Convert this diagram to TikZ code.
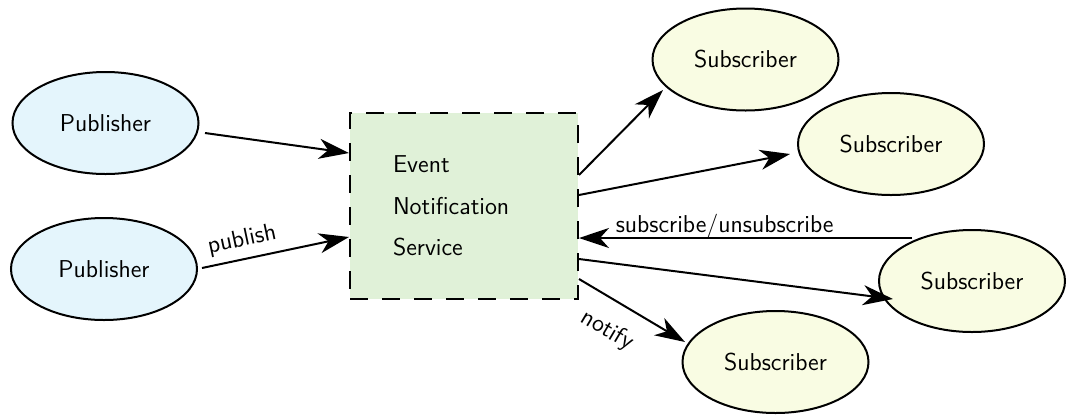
\documentclass[tikz,border=0pt]{standalone}
\usetikzlibrary{calc,arrows.meta,shapes.geometric}
\definecolor{pubfill}{HTML}{E4F5FC}
\definecolor{subfill}{HTML}{F9FCE3}
\definecolor{svcfill}{HTML}{E0F1D8}
\begin{document}
\begin{tikzpicture}[x=0.5pt,y=-0.5pt,
  every node/.style={font=\sffamily\fontsize{12.2}{20.75}\selectfont},
  pub/.style={ellipse, draw, line width=1pt, fill=pubfill, minimum width=93pt, minimum height=51pt, inner sep=0pt},
  sub/.style={ellipse, draw, line width=1pt, fill=subfill, minimum width=93pt, minimum height=51pt, inner sep=0pt},
  svcbox/.style={rectangle, draw, dash pattern=on 9pt off 7pt, line width=1pt, fill=svcfill, minimum width=114pt, minimum height=93pt, text width=71pt, inner xsep=21.5pt, align=left},
  conn/.style={line width=1pt, -{Stealth[length=15pt,width=10pt,inset=4.5pt]}},
  lbl/.style={sloped, anchor=base, inner sep=0pt}
]
\useasboundingbox (0,0) rectangle (1067,414);
\node[pub] (pub1) at (105.5,123) {Publisher};
\node[pub] (pub2) at (104,269) {Publisher};
\node[svcbox] (svc) at (464,206) {Event\\Notification\\Service};
\node[sub] (sub1) at (745.5,59.5) {Subscriber};
\node[sub] (sub2) at (891,144) {Subscriber};
\node[sub] (sub3) at (972,281) {Subscriber};
\node[sub] (sub4) at (775.5,362) {Subscriber};

\draw[conn] ($(pub1)+(99.5,10)$) -- ($(svc.west)+(0,-53)$);
\draw[conn] ($(pub2)+(98,-1)$) -- node[lbl, pos=0.30, yshift=6.5pt]{publish} ($(svc.west)+(0,31)$);
\draw[conn] ($(svc.east)+(0,-31)$) -- ($(sub1)+(-82.5,30.5)$);
\draw[conn] ($(svc.east)+(0,-11)$) -- ($(sub2)+(-101,10)$);
\draw[conn] ($(sub3)+(-60,-43)$) -- node[pos=0.5625, anchor=base, inner sep=0pt, yshift=2.75pt]{subscribe/unsubscribe} ($(svc.east)+(0,32)$);
\draw[conn] ($(svc.east)+(0,53)$) -- ($(sub3)+(-79,18)$);
\draw[conn] ($(svc.east)+(0,73)$) -- node[lbl, pos=0.41, yshift=-18pt]{notify} ($(sub4)+(-90.5,-20)$);
\end{tikzpicture}
\end{document}
